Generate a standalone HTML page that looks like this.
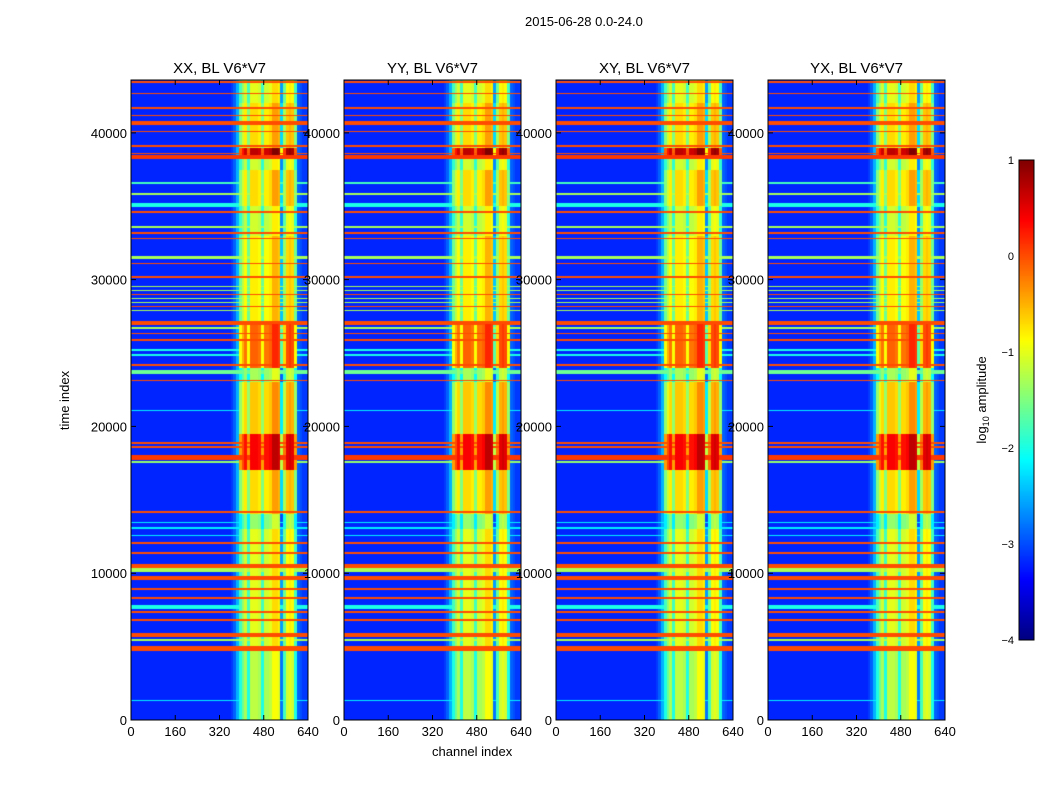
<!DOCTYPE html>
<html><head><meta charset="utf-8"><style>
body{margin:0;background:#fff;width:1050px;height:800px;position:relative;font-family:"Liberation Sans",sans-serif;overflow:hidden}
.t{position:absolute;font-size:13px;color:#000;white-space:nowrap}
canvas{position:absolute}
</style></head><body>
<div class="t" style="left:525px;top:14px">2015-06-28 0.0-24.0</div>
<div class="t" style="left:35px;top:393px;transform:rotate(-90deg)">time index</div>
<div class="t" style="left:432px;top:744px">channel index</div>
<svg id="svg" width="1050" height="800" style="position:absolute;left:0;top:0"></svg>
<script>
// ---- data ----
const panelTitles = ["XX, BL V6*V7","YY, BL V6*V7","XY, BL V6*V7","YX, BL V6*V7"];
const tMax = 43600;
const xTicks = [0,160,320,480,640];
const yTicks = [0,10000,20000,30000,40000];
const cbTicks = [1,0,-1,-2,-3,-4];
// background log amplitude per 10-channel bin (64 bins)
const chanBase = [-3.2,-3.2,-3.2,-3.2,-3.2,-3.2,-3.2,-3.2,-3.2,-3.2,-3.2,-3.2,-3.2,-3.2,-3.2,-3.2,
 -3.2,-3.2,-3.2,-3.2,-3.2,-3.2,-3.2,-3.2,-3.2,-3.2,-3.2,-3.2,-3.2,-3.2,-3.2,-3.2,
 -3.2,-3.2,-3.2,-3.2,-3.1,-2.9,-2.5,-1.6,-1.0,-1.0,-1.0,-1.0,-1.0,-1.0,-1.0,-1.0,
 -1.0,-1.0,-1.0,-1.0,-1.0,-1.0,-1.0,-1.0,-1.0,-1.0,-1.0,-1.0,-2.9,-3.0,-3.1,-3.1];
// 1 = channel belongs to the bright band
const chanInBand = [0,0,0,0,0,0,0,0,0,0,0,0,0,0,0,0,0,0,0,0,0,0,0,0,0,0,0,0,0,0,0,0,
 0,0,0,0,0,0,0,1,1,1,1,1,1,1,1,1,1,1,1,1,1,1,1,1,1,1,1,1,0,0,0,0];
// offset within band per channel bin
const chanOffset = [0,0,0,0,0,0,0,0,0,0,0,0,0,0,0,0,0,0,0,0,0,0,0,0,0,0,0,0,0,0,0,0,
 0,0,0,0,0,0,0,-1.0,-0.6,-0.3,-1.0,-0.2,-0.2,-0.2,-0.3,-1.0,-0.3,-0.3,-0.2,0.1,0.1,0.0,-1.8,-0.8,-0.1,0.0,-0.1,-1.0,0,0,0,0];
// band level segments: start, end
const bandStart = [0,5000,13000,14000,17000,19500,23000,24000,27000,30000,33000,35000,37500,38500,39000,42000];
const bandEnd   = [5000,13000,14000,17000,19500,23000,24000,27000,30000,33000,35000,37500,38500,39000,42000,43600];
const bandLevel = [-1.0,-0.8,-1.2,-0.5,0.6,-0.4,-1.1,0.1,-0.6,-0.6,-0.9,-0.5,-0.9,0.9,-0.5,-0.8];
// horizontal RFI lines: time, width, level
const lineTime = [43450,42700,41700,41200,40650,40100,39100,38600,38350,36570,35820,35070,34600,33570,33170,32820,31530,31120,30170,
 29560,29280,29010,28740,28460,28190,27920,27040,26700,26350,25880,25200,24860,24180,23700,23150,21110,18860,18590,17910,17570,
 14160,13480,13080,12600,12050,11370,10490,10220,9670,8920,8310,7700,7350,6810,5790,5450,4900,1360];
const lineWidth = [150,90,90,90,250,90,90,90,300,150,120,300,90,100,90,90,200,90,90,
 80,80,80,80,80,80,80,300,90,90,90,90,90,90,300,90,70,90,90,350,100,
 100,70,70,70,90,150,300,300,250,90,90,250,90,90,300,100,350,70];
const lineLevel = [0,0,0,0,0,0,0,0,0.1,-1.8,-1.3,-2,0,-1.3,0,0,-1.3,0,0,
 -1.3,-1.3,0,-1.3,-1.3,0,-1.3,0,-1.3,0,0,-2,-2,0,-1.6,0,-2.2,0,0,0.1,-1.4,
 0,-2.2,-2.2,-2.2,0,0,0,-1.3,0,0,0,-2,0,0,0,-1.3,0,-2.2];
// ---- layout ----
const panelLeft=[131,344,556,768], PW=177, PT=80, PH=640;
const svg=document.getElementById('svg'), NS='http://www.w3.org/2000/svg';
function jet(v){let x=(v+4)/5;x=Math.max(0,Math.min(1,x));
 const r=Math.max(0,Math.min(1,1.5-Math.abs(4*x-3))),g=Math.max(0,Math.min(1,1.5-Math.abs(4*x-2))),b=Math.max(0,Math.min(1,1.5-Math.abs(4*x-1)));
 return [r*255,g*255,b*255];}
function xs(ch){return ch/640*PW;}
function ys(t){return PH - t/tMax*PH;}
function valueAt(t,ch){
 const bi=Math.min(63,Math.floor(ch/10));
 let v=chanBase[bi];
 if(chanInBand[bi]){for(let i=0;i<bandStart.length;i++){if(t>=bandStart[i]&&t<bandEnd[i]){v=bandLevel[i]+chanOffset[bi];break;}}}
 for(let i=0;i<lineTime.length;i++){if(Math.abs(t-lineTime[i])<=lineWidth[i]/2){v=Math.max(v,lineLevel[i]);}}
 return v;}
function txt(x,y,s,anchor,name,size){const e=document.createElementNS(NS,'text');e.setAttribute('x',x);e.setAttribute('y',y);
 e.setAttribute('text-anchor',anchor);e.setAttribute('font-size',size||13);e.setAttribute('font-family','Liberation Sans, sans-serif');e.textContent=s;
 
 
 svg.appendChild(e);}
panelTitles.forEach((title,p)=>{
 const L=panelLeft[p];
 const c=document.createElement('canvas');c.width=PW;c.height=PH;c.style.left=L+'px';c.style.top=PT+'px';
 
 
 document.body.insertBefore(c,svg);
 const ctx=c.getContext('2d'),img=ctx.createImageData(PW,PH);
 for(let py=0;py<PH;py++){const t=(PH-py-0.5)/PH*tMax;
  for(let px=0;px<PW;px++){const ch=(px+0.5)/PW*640;const col=jet(valueAt(t,ch));const k=(py*PW+px)*4;
   img.data[k]=col[0];img.data[k+1]=col[1];img.data[k+2]=col[2];img.data[k+3]=255;}}
 ctx.putImageData(img,0,0);
 const fr=document.createElementNS(NS,'rect');fr.setAttribute('x',L);fr.setAttribute('y',PT);fr.setAttribute('width',PW);fr.setAttribute('height',PH);
 fr.setAttribute('fill','none');fr.setAttribute('stroke','#000');
 
 
 svg.appendChild(fr);
 txt(L+PW/2,73,title,'middle','panel-title',15);
 xTicks.forEach(v=>{const x=L+xs(v);
  const tk=document.createElementNS(NS,'path');tk.setAttribute('d',`M${x} ${PT+PH}v-5M${x} ${PT}v5`);tk.setAttribute('stroke','#000');
  
  
  svg.appendChild(tk);
  txt(x,736,String(v),'middle','x-tick-label');});
 yTicks.forEach(v=>{const y=PT+ys(v);
  const tk=document.createElementNS(NS,'path');tk.setAttribute('d',`M${L} ${y}h5M${L+PW} ${y}h-5`);tk.setAttribute('stroke','#000');
  
  
  svg.appendChild(tk);
  txt(L-4,y+5,String(v),'end','y-tick-label');});
});
// colorbar
const CBX=1019,CBY=160,CBW=15,CBH=480;
const cb=document.createElement('canvas');cb.width=CBW;cb.height=CBH;cb.style.left=CBX+'px';cb.style.top=CBY+'px';


document.body.insertBefore(cb,svg);
const cctx=cb.getContext('2d');
for(let i=0;i<CBH;i++){const c=jet(1-(i+0.5)/CBH*5);cctx.fillStyle=`rgb(${c[0]|0},${c[1]|0},${c[2]|0})`;cctx.fillRect(0,i,CBW,1);}
const cf=document.createElementNS(NS,'rect');cf.setAttribute('x',CBX);cf.setAttribute('y',CBY);cf.setAttribute('width',CBW);cf.setAttribute('height',CBH);
cf.setAttribute('fill','none');cf.setAttribute('stroke','#000');


svg.appendChild(cf);
cbTicks.forEach(v=>{const y=CBY+(1-v)/5*CBH;txt(CBX-5,y+4,String(v).replace('-','\u2212'),'end','colorbar-tick-label',11);});
const lab=document.createElementNS(NS,'text');lab.setAttribute('transform','translate(986,400) rotate(-90)');lab.setAttribute('text-anchor','middle');
lab.setAttribute('font-size','13');lab.setAttribute('font-family','Liberation Sans, sans-serif');
lab.innerHTML='log<tspan font-size="9" dy="3">10</tspan><tspan dy="-3"> amplitude</tspan>';


svg.appendChild(lab);
</script>
</body></html>
